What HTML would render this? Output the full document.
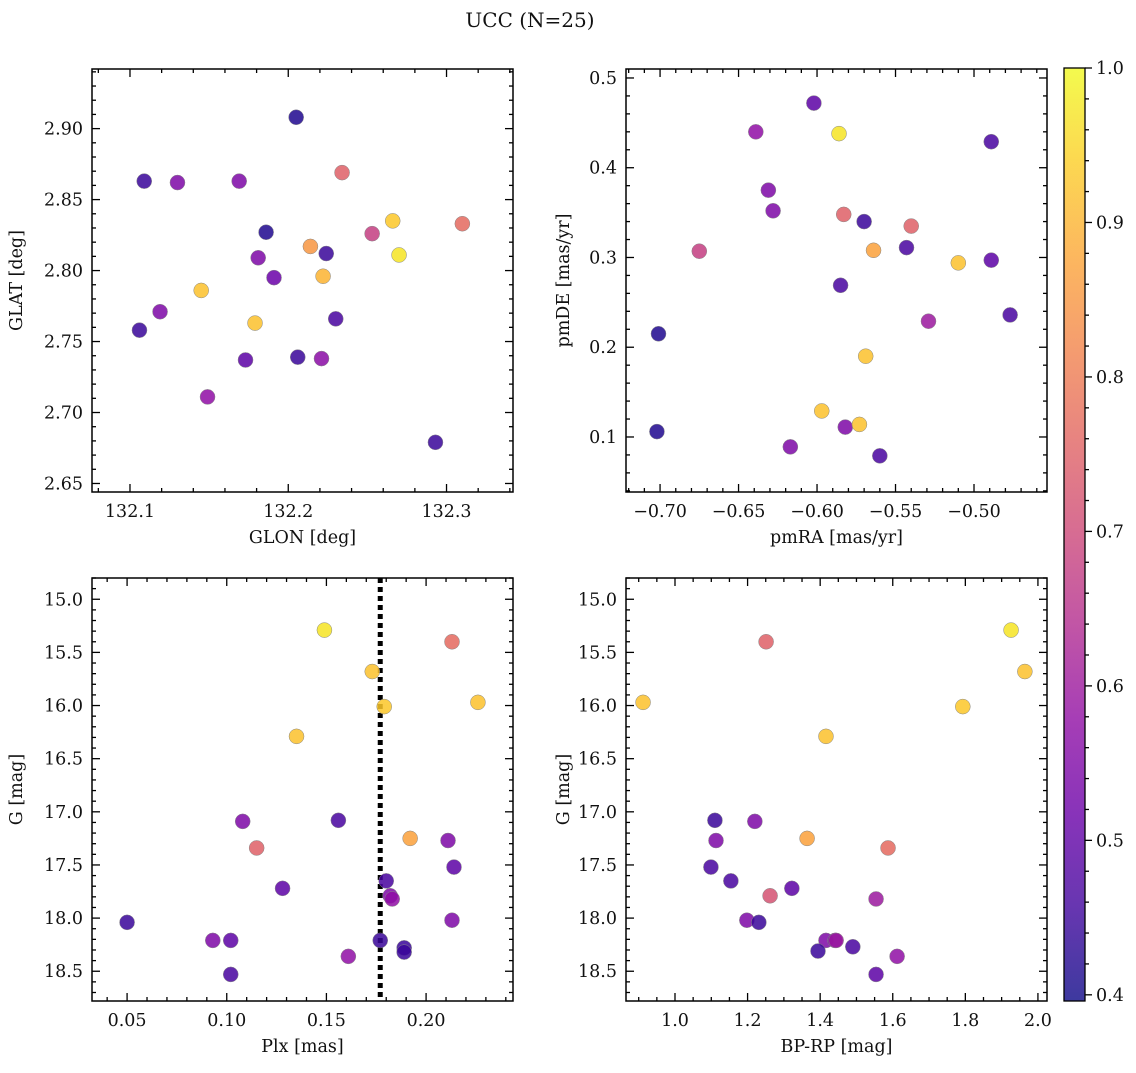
<!DOCTYPE html>
<html><head><meta charset="utf-8"><style>
body{margin:0;background:#fff}
svg text{font-family:"DejaVu Serif","Liberation Serif",serif;font-size:17.5px;fill:#111}
</style></head><body>
<svg id="fig" width="1136" height="1068" xmlns="http://www.w3.org/2000/svg">
<text x="530" y="27" text-anchor="middle" style="font-size:20px">UCC (N=25)</text>
</svg>
<script>
const glon=[132.109,132.130,132.169,132.205,132.234,132.186,132.214,132.224,132.253,132.266,132.270,132.310,132.181,132.191,132.222,132.145,132.119,132.106,132.179,132.230,132.173,132.206,132.221,132.149,132.293];
const glat=[2.863,2.862,2.863,2.908,2.869,2.827,2.817,2.812,2.826,2.835,2.811,2.833,2.809,2.795,2.796,2.786,2.771,2.758,2.763,2.766,2.737,2.739,2.738,2.711,2.679];
const cTL=[0.45,0.55,0.55,0.42,0.75,0.42,0.85,0.45,0.68,0.93,0.97,0.77,0.55,0.52,0.9,0.92,0.55,0.45,0.92,0.47,0.5,0.45,0.57,0.58,0.45];
const pmra=[-0.701,-0.702,-0.675,-0.639,-0.631,-0.628,-0.617,-0.602,-0.586,-0.597,-0.585,-0.582,-0.583,-0.573,-0.570,-0.569,-0.564,-0.560,-0.543,-0.540,-0.529,-0.510,-0.489,-0.489,-0.477];
const pmde=[0.215,0.106,0.307,0.440,0.375,0.352,0.089,0.472,0.438,0.129,0.269,0.111,0.348,0.114,0.340,0.190,0.308,0.079,0.311,0.335,0.229,0.294,0.429,0.297,0.236];
const cTR=[0.42,0.42,0.68,0.58,0.55,0.55,0.55,0.5,0.97,0.92,0.47,0.55,0.75,0.92,0.45,0.92,0.87,0.47,0.47,0.75,0.6,0.92,0.47,0.5,0.47];
const plx=[0.050,0.093,0.102,0.102,0.108,0.115,0.128,0.135,0.149,0.156,0.161,0.173,0.177,0.179,0.180,0.182,0.183,0.189,0.189,0.192,0.211,0.213,0.213,0.214,0.226];
const gBL=[18.04,18.21,18.21,18.53,17.09,17.34,17.72,16.29,15.29,17.08,18.36,15.68,18.21,16.01,17.65,17.79,17.82,18.28,18.32,17.25,17.27,15.40,18.02,17.52,15.97];
const cBL=[0.45,0.55,0.5,0.47,0.55,0.75,0.5,0.92,0.97,0.47,0.58,0.92,0.45,0.93,0.47,0.55,0.58,0.45,0.45,0.87,0.55,0.77,0.55,0.5,0.92];
const bprp=[0.912,1.251,1.793,1.926,1.964,1.416,1.110,1.113,1.220,1.364,1.099,1.154,1.262,1.322,1.587,1.554,1.198,1.231,1.416,1.441,1.444,1.394,1.490,1.612,1.554];
const gBR=[15.97,15.40,16.01,15.29,15.68,16.29,17.08,17.27,17.09,17.25,17.52,17.65,17.79,17.72,17.34,17.82,18.02,18.04,18.21,18.21,18.21,18.31,18.27,18.36,18.53];
const cBR=[0.92,0.75,0.93,0.97,0.92,0.92,0.45,0.55,0.55,0.87,0.47,0.47,0.72,0.5,0.77,0.6,0.55,0.45,0.55,0.55,0.6,0.45,0.47,0.58,0.5];
const plxLine=0.177;

const NS="http://www.w3.org/2000/svg";
const svg=document.getElementById('fig');
function mk(t,a,p){const e=document.createElementNS(NS,t);for(const k in a)e.setAttribute(k,a[k]);(p||svg).appendChild(e);return e;}
const stops=['#0d0887','#41049d','#6a00a8','#8f0da4','#b12a90','#cc4778','#e16462','#f2844b','#fca636','#fcce25','#f0f921'];
function hx(h){return [1,3,5].map(i=>parseInt(h.substr(i,2),16));}
function cmap(v){let t=(v-0.4)/0.6;t=Math.max(0,Math.min(1,t))*10;const i=Math.min(9,Math.floor(t)),f=t-i;const a=hx(stops[i]),b=hx(stops[i+1]);return 'rgb('+a.map((x,k)=>Math.round(x+(b[k]-x)*f)).join(',')+')';}
function panel(o){
  const g=mk('g',{});
  const {x0,x1,y0,y1}=o;
  const sx=v=>x0+(v-o.xr[0])/(o.xr[1]-o.xr[0])*(x1-x0);
  const sy=o.inv?(v=>y0+(v-o.yr[0])/(o.yr[1]-o.yr[0])*(y1-y0)):(v=>y0+(v-o.yr[1])/(o.yr[0]-o.yr[1])*(y1-y0));
  const tg=mk('g',{stroke:'#000','stroke-width':1.3},g);
  for(let i=-200;i<=400;i++){const v=+(o.xt0+i*o.xm).toFixed(6);if(v<o.xr[0]||v>o.xr[1])continue;
    const maj=Math.abs(Math.round(i/o.xn)*o.xn-i)<1e-9;const L=maj?8:4;const X=sx(v);
    mk('line',{x1:X,x2:X,y1:y1,y2:y1-L},tg);mk('line',{x1:X,x2:X,y1:y0,y2:y0+L},tg);
    if(maj){const t=mk('text',{x:X,y:y1+25,'text-anchor':'middle'},g);t.textContent=o.xf(v);}}
  for(let i=-200;i<=400;i++){const v=+(o.yt0+i*o.ym).toFixed(6);if(v<o.yr[0]||v>o.yr[1])continue;
    const maj=Math.abs(Math.round(i/o.yn)*o.yn-i)<1e-9;const L=maj?8:4;const Y=sy(v);
    mk('line',{x1:x0,x2:x0+L,y1:Y,y2:Y},tg);mk('line',{x1:x1,x2:x1-L,y1:Y,y2:Y},tg);
    if(maj){const t=mk('text',{x:x0-9,y:Y+6,'text-anchor':'end'},g);t.textContent=o.yf(v);}}
  if(o.vline!==undefined){const l=mk('line',{x1:sx(o.vline),x2:sx(o.vline),y1:y0,y2:y1,stroke:'#000','stroke-width':5,'stroke-dasharray':'5,4'},g);}
  o.xs.forEach((v,i)=>{const c=mk('circle',{cx:sx(v),cy:sy(o.ys[i]),r:7.5,fill:cmap(o.cs[i]),'fill-opacity':0.85,stroke:'#888','stroke-width':0.5},g);
    });
  mk('rect',{x:x0,y:y0,width:x1-x0,height:y1-y0,fill:'none',stroke:'#000','stroke-width':1.5},g);
  const xl=mk('text',{x:(x0+x1)/2,y:y1+51,'text-anchor':'middle'},g);xl.textContent=o.xl;
  const yl=mk('text',{x:0,y:0,'text-anchor':'middle',transform:`translate(${o.ylx},${(y0+y1)/2}) rotate(-90)`},g);yl.textContent=o.yl;
}
const f2=v=>v.toFixed(2),f1=v=>v.toFixed(1);
panel({name:'glon-glat-panel',x0:92,x1:513,y0:69,y1:492,xr:[132.076,132.342],yr:[2.644,2.942],xt0:132.0,xm:0.02,xn:5,yt0:2.6,ym:0.01,yn:5,xf:f1,yf:f2,xs:glon,ys:glat,cs:cTL,xl:'GLON [deg]',yl:'GLAT [deg]',ylx:22});
panel({name:'proper-motion-panel',x0:626,x1:1047,y0:69,y1:492,xr:[-0.7217,-0.4535],yr:[0.0387,0.510],xt0:-0.8,xm:0.01,xn:5,yt0:0,ym:0.02,yn:5,xf:v=>(v<0?'\u2212':'')+Math.abs(v).toFixed(2),yf:f1,xs:pmra,ys:pmde,cs:cTR,xl:'pmRA [mas/yr]',yl:'pmDE [mas/yr]',ylx:569});
panel({name:'plx-g-panel',inv:true,x0:92,x1:513,y0:578,y1:1001,xr:[0.0324,0.2436],yr:[14.80,18.78],xt0:0,xm:0.01,xn:5,yt0:14,ym:0.1,yn:5,xf:f2,yf:f1,xs:plx,ys:gBL,cs:cBL,xl:'Plx [mas]',yl:'G [mag]',ylx:22,vline:plxLine});
panel({name:'cmd-panel',inv:true,x0:626,x1:1047,y0:578,y1:1001,xr:[0.865,2.025],yr:[14.80,18.78],xt0:0,xm:0.05,xn:4,yt0:14,ym:0.1,yn:5,xf:f1,yf:f1,xs:bprp,ys:gBR,cs:cBR,xl:'BP-RP [mag]',yl:'G [mag]',ylx:569});
const cb=mk('g',{});
const def=mk('defs',{},cb);const lg=mk('linearGradient',{id:'cg',x1:0,y1:1,x2:0,y2:0},def);
stops.forEach((s,i)=>mk('stop',{offset:i/10,'stop-color':s,'stop-opacity':0.8},lg));
const cy0=68,cy1=1001,cv0=0.396,cv1=1.0;const cyf=v=>cy1-(v-cv0)/(cv1-cv0)*(cy1-cy0);
mk('rect',{x:1064,y:cy0,width:21,height:cy1-cy0,fill:'url(#cg)',stroke:'#000','stroke-width':1.3},cb);
for(let v=0.40;v<=1.0001;v+=0.02){const Y=cyf(v);const maj=Math.abs(v*10-Math.round(v*10))<1e-6;
  mk('line',{x1:1085,x2:1085+(maj?7:4),y1:Y,y2:Y,stroke:'#000','stroke-width':1.3},cb);
  if(maj){const t=mk('text',{x:1096,y:Y+6},cb);t.textContent=v.toFixed(1);}}
</script>
</body></html>
